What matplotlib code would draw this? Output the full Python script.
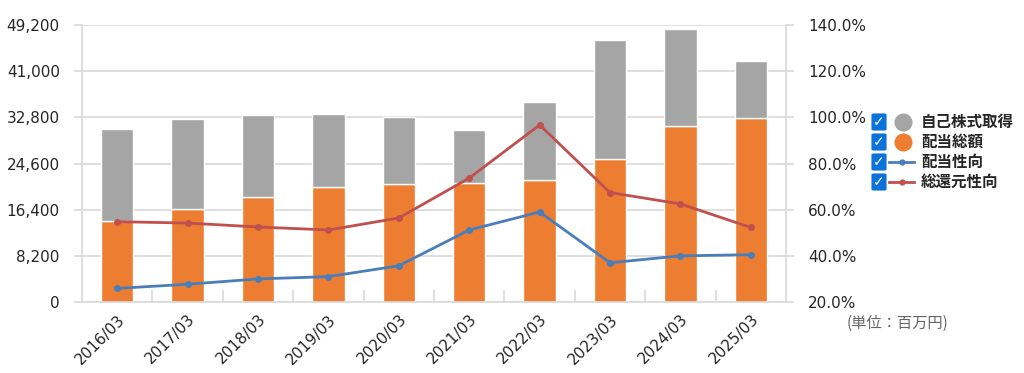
import matplotlib
matplotlib.use("Agg")
import matplotlib.pyplot as plt
from matplotlib.patches import FancyBboxPatch
import numpy as np

plt.rcParams["font.family"] = ["DejaVu Sans", "Noto Sans CJK JP"]

# ── Data (millions of yen / percent) ─────────────────────────────────────────
years = ["2016/03", "2017/03", "2018/03", "2019/03", "2020/03",
         "2021/03", "2022/03", "2023/03", "2024/03", "2025/03"]
dividends = [14400, 16450, 18700, 20350, 20900, 21100, 21600, 25450, 31250, 32750]
buybacks = [16300, 15990, 14450, 13040, 12000, 9400, 13980, 21020, 17180, 10050]
payout_ratio = [25.9, 27.7, 30.0, 31.0, 35.7, 51.2, 59.0, 37.0, 40.0, 40.5]
total_return_ratio = [54.8, 54.2, 52.5, 51.2, 56.4, 73.7, 96.7, 67.4, 62.5, 52.3]

left_ticks = [0, 8200, 16400, 24600, 32800, 41000, 49200]
right_ticks = [20, 40, 60, 80, 100, 120, 140]

legend_labels = ["自己株式取得", "配当総額", "配当性向", "総還元性向"]
unit_label = "(単位：百万円)"

# ── Styles ───────────────────────────────────────────────────────────────────
ORANGE, GRAY = "#ED7D31", "#A5A5A5"
BLUE, RED = "#4A7EBB", "#C0504D"
GRID, TEXT = "#D9D9D9", "#262626"
CHECK_BLUE = "#0B72D9"

fig = plt.figure(figsize=(10.24, 3.73), dpi=100)
ax = fig.add_axes([0.0801, 0.1903, 0.6875, 0.7427])

x = np.arange(len(years))
ax.bar(x, dividends, width=0.46, color=ORANGE, edgecolor="white", linewidth=1, zorder=2)
ax.bar(x, buybacks, width=0.46, bottom=dividends, color=GRAY, edgecolor="white",
       linewidth=1, zorder=2)

ax.set_xlim(-0.5, len(years) - 0.5)
ax.set_ylim(0, 49200)
ax.set_yticks(left_ticks)
ax.set_yticklabels([f"{v:,}" for v in left_ticks], fontsize=11, color=TEXT)
ax.yaxis.grid(True, color=GRID, linewidth=1.2, zorder=0)
ax.set_axisbelow(True)

ax.set_xticks(x)
ax.set_xticklabels(years, rotation=45, ha="right", rotation_mode="anchor",
                   fontsize=11, color=TEXT)
ax.tick_params(axis="x", length=0, pad=7)
ax.set_xticks(np.arange(0.5, len(years) - 1, 1.0), minor=True)
ax.tick_params(axis="x", which="minor", direction="in", length=9, color=GRID, width=1.2)
ax.tick_params(axis="y", length=6, color=GRID, width=1.2, pad=10)

ax.spines["top"].set_visible(False)
for s in ("left", "bottom", "right"):
    ax.spines[s].set_color(GRID)
    ax.spines[s].set_linewidth(1.2)

ax2 = ax.twinx()
ax2.plot(x, payout_ratio, color=BLUE, linewidth=2, marker="o", markersize=4, zorder=3)
ax2.plot(x, total_return_ratio, color=RED, linewidth=2, marker="o", markersize=4, zorder=3)
ax2.set_ylim(20, 140)
ax2.set_yticks(right_ticks)
ax2.set_yticklabels([f"{v:.1f}%" for v in right_ticks], fontsize=11, color=TEXT)
ax2.tick_params(axis="y", length=6, color=GRID, width=1.2, pad=10)
for s in ax2.spines.values():
    s.set_visible(False)

# ── Legend with checkboxes ───────────────────────────────────────────────────
rows_y = [122, 142, 162, 182]
W, H = 1024, 373
for i, (lab, yy) in enumerate(zip(legend_labels, rows_y)):
    fy = 1 - yy / H
    box = FancyBboxPatch((872 / W, fy - 8 / H), 14 / W, 16 / H,
                         boxstyle="round,pad=0,rounding_size=0.002",
                         transform=fig.transFigure, facecolor=CHECK_BLUE,
                         edgecolor=CHECK_BLUE, linewidth=0.8)
    fig.patches.append(box)
    fig.text(879 / W, fy, "✓", color="white", fontsize=10, fontweight="bold",
             ha="center", va="center", family=["DejaVu Sans"])
    if i < 2:
        fig.lines.append(plt.Line2D([903 / W], [fy], color=[GRAY, ORANGE][i],
                                    marker="o", markersize=12, linestyle="None",
                                    transform=fig.transFigure))
    else:
        col = [BLUE, RED][i - 2]
        fig.lines.append(plt.Line2D([889 / W, 914 / W], [fy, fy], color=col,
                                    linewidth=2, transform=fig.transFigure))
        fig.lines.append(plt.Line2D([901.5 / W], [fy], color=col, marker="o",
                                    markersize=3.5, transform=fig.transFigure))
    fig.text(921 / W, fy, lab, color=TEXT, fontsize=11.2, fontweight="bold",
             ha="left", va="center", family=["Noto Sans CJK JP", "DejaVu Sans"])

fig.text(847 / W, 1 - 323 / H, unit_label, color="#666666", fontsize=11,
         ha="left", va="center", family=["Noto Sans CJK JP", "DejaVu Sans"])

fig.savefig("out.png", dpi=100, facecolor="white")
